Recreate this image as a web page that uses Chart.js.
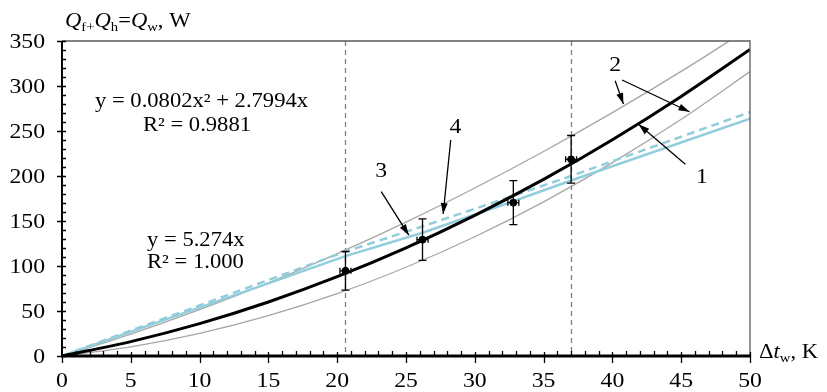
<!DOCTYPE html>
<html>
<head>
<meta charset="utf-8">
<script src="https://cdn.jsdelivr.net/npm/chart.js@4.4.0/dist/chart.umd.min.js"></script>
<style>
  html, body { margin: 0; padding: 0; background: #fff; }
  #wrap { width: 827px; height: 392px; }
</style>
</head>
<body>
<div id="wrap"><canvas id="heatChart"></canvas></div>
<script>
// temperature difference grid for the fitted curves, K
const xGrid = [0, 5, 10, 15, 20, 25, 30, 35, 40, 45, 50];
// curve 1: quadratic fit through the measurements, W
const fitCurve = [0, 16.0, 36.0, 60.0, 88.1, 120.1, 156.2, 196.2, 240.3, 288.4, 340.5];
// curves 2: upper and lower bounds
const upperBound = [0, 24.4, 51.5, 81.2, 113.7, 148.8, 186.7, 227.2, 270.4, 316.2, 364.8];
const lowerBound = [0, 10.2, 25.2, 44.9, 69.3, 98.6, 132.5, 171.3, 214.8, 263.0, 316.0];
// curves 3 and 4: model results
const modelX = [0, 20.6, 26.2, 32.8, 37.0, 50];
const model3 = [0, 111, 137, 172, 195, 263.7];
const model4 = [0, 116, 144, 178, 200, 271];
// measured points with errors
const measX = [20.6, 26.2, 32.8, 37.0];
const measQ = [94.6, 129.3, 170.4, 218.5];
const errQ = [21.5, 23, 24.5, 26.5];
const errDt = [0.4, 0.4, 0.4, 0.4];
// dashed vertical markers
const markerLines = [20.6, 37.0];

const serif = '"Liberation Serif", "Times New Roman", serif';
const pts = (xs, ys) => xs.map((x, i) => ({ x: x, y: ys[i] }));

// text drawn slightly wider than the font's natural width
const K = 1.13;

function wideText(ctx, text, x, y, align) {
  const w = ctx.measureText(text).width * K;
  const x0 = align === 'center' ? x - w / 2 : (align === 'right' ? x - w : x);
  ctx.save();
  ctx.translate(x0, y);
  ctx.scale(K, 1);
  ctx.textAlign = 'left';
  ctx.fillText(text, 0, 0);
  ctx.restore();
}

function partsText(ctx, parts, x, y) {
  parts.forEach(p => {
    ctx.font = p.font;
    ctx.save();
    ctx.translate(x, y + (p.dy || 0));
    ctx.scale(K, 1);
    ctx.textAlign = 'left';
    ctx.fillText(p.t, 0, 0);
    ctx.restore();
    x += ctx.measureText(p.t).width * K;
  });
}

function arrow(ctx, x1, y1, x2, y2) {
  ctx.beginPath();
  ctx.moveTo(x1, y1);
  ctx.lineTo(x2, y2);
  ctx.stroke();
  const a = Math.atan2(y2 - y1, x2 - x1);
  const len = 11, w = 3.5;
  ctx.beginPath();
  ctx.moveTo(x2, y2);
  ctx.lineTo(x2 - len * Math.cos(a) + w * Math.sin(a), y2 - len * Math.sin(a) - w * Math.cos(a));
  ctx.lineTo(x2 - len * Math.cos(a) - w * Math.sin(a), y2 - len * Math.sin(a) + w * Math.cos(a));
  ctx.closePath();
  ctx.fill();
}

const markerPlugin = {
  id: 'markers',
  beforeDatasetsDraw(chart) {
    const { ctx, chartArea, scales } = chart;
    ctx.save();
    ctx.strokeStyle = '#808080';
    ctx.lineWidth = 1.3;
    ctx.setLineDash([5, 4]);
    markerLines.forEach(v => {
      const px = Math.round(scales.x.getPixelForValue(v)) + 0.5;
      ctx.beginPath();
      ctx.moveTo(px, chartArea.top);
      ctx.lineTo(px, chartArea.bottom);
      ctx.stroke();
    });
    ctx.restore();
  },
  afterDatasetsDraw(chart) {
    const { ctx, scales } = chart;
    const sx = scales.x, sy = scales.y;
    ctx.save();
    ctx.strokeStyle = '#000';
    ctx.lineWidth = 1.3;
    measX.forEach((x, i) => {
      const px = sx.getPixelForValue(x);
      const py = sy.getPixelForValue(measQ[i]);
      const top = sy.getPixelForValue(measQ[i] + errQ[i]);
      const bot = sy.getPixelForValue(measQ[i] - errQ[i]);
      const l = sx.getPixelForValue(x - errDt[i]);
      const r = sx.getPixelForValue(x + errDt[i]);
      ctx.beginPath();
      ctx.moveTo(px, top); ctx.lineTo(px, bot);
      ctx.moveTo(px - 4, top); ctx.lineTo(px + 4, top);
      ctx.moveTo(px - 4, bot); ctx.lineTo(px + 4, bot);
      ctx.moveTo(l, py); ctx.lineTo(r, py);
      ctx.moveTo(l, py - 3); ctx.lineTo(l, py + 3);
      ctx.moveTo(r, py - 3); ctx.lineTo(r, py + 3);
      ctx.stroke();
    });
    ctx.restore();
  },
  afterDraw(chart) {
    const { ctx, chartArea: a, scales } = chart;
    const sx = scales.x, sy = scales.y;
    const X = v => sx.getPixelForValue(v);
    const Y = v => sy.getPixelForValue(v);
    ctx.save();

    // frame top and right
    ctx.strokeStyle = '#595959';
    ctx.lineWidth = 1.3;
    ctx.beginPath();
    ctx.moveTo(a.left, a.top); ctx.lineTo(a.right, a.top); ctx.lineTo(a.right, a.bottom);
    ctx.stroke();

    // axes
    ctx.strokeStyle = '#000';
    ctx.lineWidth = 2;
    ctx.beginPath();
    ctx.moveTo(a.left, a.top); ctx.lineTo(a.left, a.bottom);
    ctx.stroke();
    ctx.lineWidth = 3;
    ctx.beginPath();
    ctx.moveTo(a.left - 1, a.bottom); ctx.lineTo(a.right, a.bottom);
    ctx.stroke();

    // tick marks
    ctx.lineWidth = 1.3;
    ctx.beginPath();
    for (let v = 0; v <= 350; v += 10) {
      const py = Math.round(Y(v)) + 0.5;
      ctx.moveTo(a.left - (v % 50 === 0 ? 5 : 0), py);
      ctx.lineTo(a.left + 4, py);
    }
    for (let v = 1; v <= 50; v += 1) {
      const px = Math.round(X(v)) + 0.5;
      if (v % 5 === 0) {
        ctx.moveTo(px, a.bottom - 4); ctx.lineTo(px, a.bottom + 7);
      } else {
        ctx.moveTo(px, a.bottom - 5); ctx.lineTo(px, a.bottom);
      }
    }
    ctx.moveTo(a.left + 0.5, a.bottom); ctx.lineTo(a.left + 0.5, a.bottom + 7);
    ctx.stroke();

    // tick labels from the scales' own ticks
    ctx.fillStyle = '#000';
    ctx.textBaseline = 'middle';
    ctx.font = '21px ' + serif;
    sy.ticks.forEach(t => wideText(ctx, String(t.value), a.left - 17, Y(t.value) + 1, 'right'));
    sx.ticks.forEach(t => wideText(ctx, String(t.value), X(t.value), a.bottom + 25, 'center'));

    // axis titles
    ctx.textBaseline = 'alphabetic';
    const big = '20px ' + serif, bigI = 'italic 20px ' + serif, sub = '13px ' + serif;
    partsText(ctx, [
      { t: 'Q', font: bigI }, { t: 'f', font: sub, dy: 4 }, { t: '+', font: sub, dy: 4 },
      { t: 'Q', font: bigI }, { t: 'h', font: sub, dy: 4 }, { t: '=', font: big },
      { t: 'Q', font: bigI }, { t: 'w', font: sub, dy: 4 }, { t: ', W', font: big }
    ], a.left + 3, a.top - 14);
    partsText(ctx, [
      { t: '\u0394', font: big }, { t: 't', font: bigI }, { t: 'w', font: sub, dy: 4 },
      { t: ', K', font: big }
    ], a.right + 9, a.bottom + 2);

    // trend line equations
    ctx.font = big;
    wideText(ctx, 'y = 0.0802x\u00b2 + 2.7994x', X(10.14), Y(276.7), 'center');
    wideText(ctx, 'R\u00b2 = 0.9881', X(9.81), Y(250.3), 'center');
    wideText(ctx, 'y = 5.274x', X(6.18), Y(122.2), 'left');
    wideText(ctx, 'R\u00b2 = 1.000', X(6.18), Y(97.4), 'left');

    // curve numbers and leader arrows
    ctx.textBaseline = 'middle';
    ctx.font = '21px ' + serif;
    wideText(ctx, '1', X(46.5), Y(198), 'center');
    wideText(ctx, '2', X(40.2), Y(322.5), 'center');
    wideText(ctx, '3', X(23.2), Y(205), 'center');
    wideText(ctx, '4', X(28.6), Y(253.5), 'center');
    ctx.lineWidth = 1.3;
    arrow(ctx, X(45.3), Y(213), X(41.9), Y(257.4));
    arrow(ctx, X(40.2), Y(305.9), X(40.8), Y(280));
    arrow(ctx, X(40.7), Y(306.7), X(45.6), Y(271.4));
    arrow(ctx, X(23.2), Y(182.6), X(25.2), Y(134.4));
    arrow(ctx, X(28.25), Y(240), X(27.7), Y(157.8));
    ctx.restore();
  }
};

new Chart(document.getElementById('heatChart'), {
  type: 'scatter',
  data: {
    datasets: [
      {
        label: 'measured',
        data: pts(measX, measQ),
        backgroundColor: '#000',
        borderColor: '#000',
        pointRadius: 3.5,
        showLine: false
      },
      {
        label: '1',
        data: pts(xGrid, fitCurve),
        showLine: true,
        borderColor: '#000',
        borderWidth: 3,
        pointRadius: 0,
        cubicInterpolationMode: 'monotone'
      },
      {
        label: '3',
        data: pts(modelX, model3),
        showLine: true,
        borderColor: '#92cddc',
        borderWidth: 2.5,
        pointRadius: 0
      },
      {
        label: '4',
        data: pts(modelX, model4),
        showLine: true,
        borderColor: '#92cddc',
        borderWidth: 2.5,
        borderDash: [8, 5],
        pointRadius: 0
      },
      {
        label: '2 upper',
        data: pts(xGrid, upperBound),
        showLine: true,
        borderColor: '#a6a6a6',
        borderWidth: 1.3,
        pointRadius: 0,
        cubicInterpolationMode: 'monotone'
      },
      {
        label: '2 lower',
        data: pts(xGrid, lowerBound),
        showLine: true,
        borderColor: '#a6a6a6',
        borderWidth: 1.3,
        pointRadius: 0,
        cubicInterpolationMode: 'monotone'
      }
    ]
  },
  options: {
    responsive: true,
    maintainAspectRatio: false,
    animation: false,
    layout: { padding: { top: 41, right: 77, left: 0, bottom: 0 } },
    plugins: { legend: { display: false }, tooltip: { enabled: false } },
    scales: {
      x: {
        type: 'linear',
        min: 0,
        max: 50,
        ticks: { stepSize: 5, display: false },
        grid: { display: false, drawTicks: false },
        border: { display: false },
        afterFit(s) { s.height = 36; }
      },
      y: {
        min: 0,
        max: 350,
        ticks: { stepSize: 50, display: false },
        grid: { display: false, drawTicks: false },
        border: { display: false },
        afterFit(s) { s.width = 62; }
      }
    }
  },
  plugins: [markerPlugin]
});
</script>
</body>
</html>
